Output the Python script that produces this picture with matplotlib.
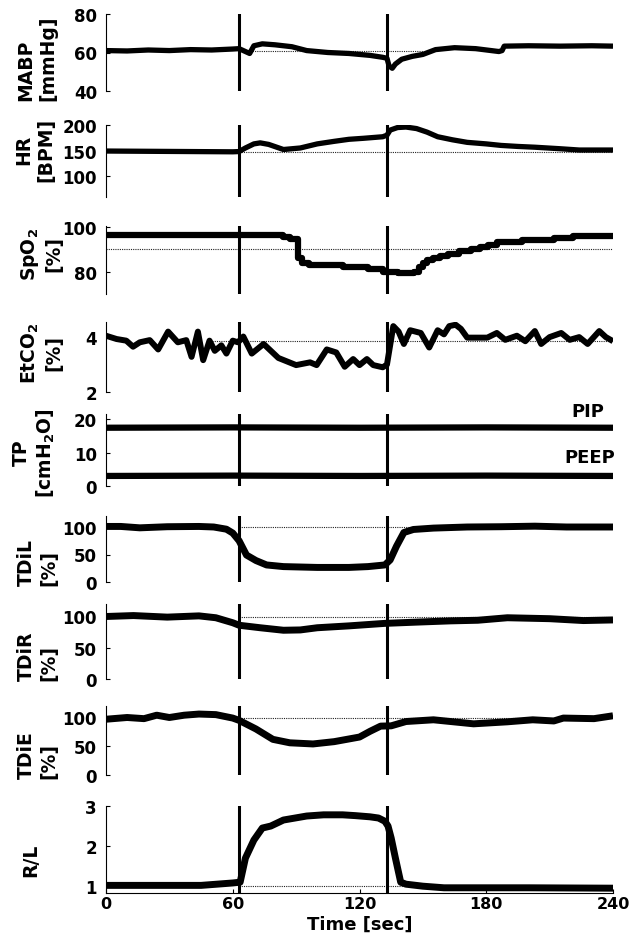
import matplotlib
matplotlib.use("Agg")
import matplotlib.pyplot as plt

plt.rcParams['font.family'] = ['DejaVu Sans']
plt.rcParams['font.weight'] = 'bold'
plt.rcParams['mathtext.default'] = 'regular'

# ---------------- data ----------------
event_times = [63, 133]

mabp_t = [0, 10, 20, 30, 40, 50, 60, 63, 66, 68, 70, 74, 80, 88, 95, 105, 115, 125, 131, 133,
          134, 135.5, 137, 140, 145, 150, 156, 165, 175, 186, 187.5, 188.5, 200, 215, 230, 240]
mabp_v = [61, 60.8, 61.3, 61.0, 61.5, 61.3, 61.8, 62, 60.5, 59.5, 63.5, 64.5, 64, 63, 61, 60, 59.5,
          58.5, 57.5, 57, 53, 51.8, 54, 56.5, 58, 59, 61.5, 62.5, 62, 60.5, 61, 63.3, 63.5, 63.3, 63.5, 63.3]

hr_t = [0, 20, 40, 60, 63, 66, 70, 73, 77, 84, 92, 100, 108, 115, 122, 131, 133, 134.5, 138, 142,
        147, 152, 157, 164, 171, 180, 187, 195, 203, 215, 224, 240]
hr_v = [149, 148.5, 148, 147.5, 148, 155, 163, 165, 162, 152, 155, 163, 168, 172, 174, 177, 180,
        190, 195, 196, 193, 186, 177, 171, 166, 163, 160, 158, 156.5, 153.5, 151, 151]

spo2_t = [0, 84, 87, 91, 93, 96, 112, 124, 131, 138, 146, 148, 150, 152, 155, 158, 162, 167, 173,
          177, 181, 185, 197, 212, 221, 240]
spo2_v = [96.5, 95.5, 94.5, 86, 84, 83, 82, 81, 80, 79.3, 80, 82, 84, 85, 86, 87, 88, 89, 90,
          91, 92, 93, 94, 95, 95.8, 95.8]

etco2_t = [0, 5, 9.6, 12.8, 16, 20.7, 24.7, 29.4, 34, 38, 40.5, 43.5, 46, 49, 51.5, 54.6, 57, 60,
           62.5, 65, 69, 74.6, 81.6, 90, 96.6, 99.7, 104.5, 109, 113, 117, 120, 123.5, 126.5, 131,
           133, 136, 138.5, 141, 144, 149, 153, 157, 160, 162.5, 165.5, 168, 171, 180.5, 185, 189,
           194.5, 198.5, 203, 206, 210, 215.5, 219.5, 224, 228, 233.5, 236.6, 240]
etco2_v = [4.05, 3.93, 3.87, 3.65, 3.81, 3.89, 3.55, 4.2, 3.81, 3.89, 3.28, 4.2, 3.16, 3.87, 3.5,
           3.7, 3.4, 3.87, 3.81, 4.02, 3.4, 3.75, 3.24, 2.98, 3.08, 2.98, 3.55, 3.44, 2.92, 3.2, 2.98,
           3.2, 2.98, 2.9, 3.0, 4.4, 4.2, 3.75, 4.25, 4.15, 3.62, 4.25, 4.1, 4.4, 4.45, 4.3, 3.98,
           3.98, 4.15, 3.9, 4.05, 3.85, 4.22, 3.75, 4.0, 4.15, 3.9, 4.0, 3.75, 4.22, 4.0, 3.85]

tp_t = [0, 60, 120, 180, 240]
pip_v = [17.4, 17.5, 17.4, 17.5, 17.4]
peep_v = [3.0, 3.1, 3.0, 3.1, 3.0]

tdil_t = [0, 7, 16, 29, 44, 51, 57, 60, 63, 66.5, 71, 76, 84, 100, 115, 124, 132, 134.5, 137.5,
          141, 145.5, 155, 171, 187, 203, 218, 240]
tdil_v = [101, 101, 98.5, 100.5, 101, 100, 96, 89, 75, 49, 39, 31, 28, 26.5, 26.5, 28, 31, 40, 65,
          90, 95.5, 98, 100, 100.5, 101.5, 100, 100]

tdir_t = [0, 13, 29, 44, 52, 60, 63, 73, 84, 92, 100, 115, 132, 147, 163, 176, 190, 210, 226, 240]
tdir_v = [100, 101.5, 99, 101, 98, 90, 86, 82, 78, 78.5, 82, 85, 89, 91, 93, 94, 98, 96.5, 93.5, 94.5]

tdie_t = [0, 10, 18, 24, 30, 37, 44, 52, 60, 63, 71, 79, 87, 98, 108, 120, 125, 130, 135, 142,
          155, 174, 190, 202, 212, 216.5, 231, 240]
tdie_v = [97, 100, 98, 104, 100, 104, 106, 105, 99, 95, 80, 62, 56, 54, 58, 66, 76, 85, 85.5, 93,
          96, 89, 92.5, 96, 94, 99, 98, 103]

rl_t = [0, 45, 60, 63.5, 66, 70, 74, 78, 84, 95, 103, 112, 118, 125, 129, 132, 133.5, 135, 137,
        139.5, 142, 150, 160, 200, 240]
rl_v = [1.02, 1.02, 1.08, 1.1, 1.7, 2.15, 2.45, 2.5, 2.65, 2.75, 2.78, 2.78, 2.76, 2.73, 2.7, 2.62,
        2.5, 2.2, 1.7, 1.1, 1.05, 1.0, 0.96, 0.96, 0.95]

x_ticks = [0, 60, 120, 180, 240]

# ---------------- layout ----------------
W, H = 630, 937
fig = plt.figure(figsize=(W / 100, H / 100), dpi=100)

ax_left, ax_right = 106, 613
tops = [15, 126, 227, 323, 415, 517, 605, 707, 807]
bots = [92, 198, 295, 393, 487, 583, 680, 776, 894]

panels = [
    dict(t=mabp_t, v=mabp_v, ylim=(40, 80), ticks=[40, 60, 80], lw=3.8, ref=(60.7, 63, 150),
         label="MABP\n[mmHg]", lx=57, ly=58, ma='left'),
    dict(t=hr_t, v=hr_v, ylim=(59, 200), ticks=[100, 150, 200], lw=3.8, ref=(148, 63, 240),
         label="HR\n[BPM]", lx=55, ly=150, ma='center'),
    dict(t=spo2_t, v=spo2_v, ylim=(70, 100.3), ticks=[80, 100], lw=4.5, ref=(90, 0, 240),
         label="SpO$_2$\n[%]", lx=63, ly=254, ma='center', steps=True),
    dict(t=etco2_t, v=etco2_v, ylim=(2, 4.55), ticks=[2, 4], lw=4.3, ref=(3.87, 50, 240),
         label="EtCO$_2$\n[%]", lx=63, ly=353, ma='center'),
    dict(t=None, v=None, ylim=(0, 21.5), ticks=[0, 10, 20], lw=4.5, ref=None,
         label="TP\n[cmH$_2$O]", lx=57, ly=453, ma='center'),
    dict(t=tdil_t, v=tdil_v, ylim=(0, 120), ticks=[0, 50, 100], lw=5.0, ref=(100, 63, 240),
         label="TDiL\n[%]", lx=58, ly=563, ma='left'),
    dict(t=tdir_t, v=tdir_v, ylim=(0, 120), ticks=[0, 50, 100], lw=5.0, ref=(100, 63, 240),
         label="TDiR\n[%]", lx=58, ly=656, ma='left'),
    dict(t=tdie_t, v=tdie_v, ylim=(0, 120), ticks=[0, 50, 100], lw=5.0, ref=(100, 63, 240),
         label="TDiE\n[%]", lx=58, ly=755, ma='left'),
    dict(t=rl_t, v=rl_v, ylim=(0.83, 3), ticks=[1, 2, 3], lw=5.0, ref=(1.0, 63, 240),
         label="R/L", lx=40, ly=860, ma='center'),
]

for i, p in enumerate(panels):
    l = ax_left / W
    b = 1 - bots[i] / H
    w = (ax_right - ax_left) / W
    h = (bots[i] - tops[i]) / H
    ax = fig.add_axes([l, b, w, h])
    ax.set_xlim(0, 240)
    ax.set_ylim(*p['ylim'])
    ax.set_yticks(p['ticks'])
    for s in ['top', 'right']:
        ax.spines[s].set_visible(False)
    ax.spines['left'].set_linewidth(0.8)
    if i < len(panels) - 1:
        ax.spines['bottom'].set_visible(False)
        ax.set_xticks([])
    else:
        ax.spines['bottom'].set_linewidth(0.8)
        ax.set_xticks(x_ticks)
        ax.set_xticklabels([str(x) for x in x_ticks])
    ax.tick_params(axis='both', direction='in', length=3, width=0.8, labelsize=12, pad=6.5)
    ax.tick_params(axis='x', pad=2, labelsize=11.5)
    for lab in ax.get_yticklabels() + ax.get_xticklabels():
        lab.set_fontweight('bold')

    if p['ref'] is not None:
        rv, r0, r1 = p['ref']
        ax.plot([r0, r1], [rv, rv], color='#222222', lw=0.8, ls=(0, (1, 1)), zorder=1)

    if p['t'] is not None:
        if p.get('steps'):
            ax.plot(p['t'], p['v'], color='black', lw=p['lw'], drawstyle='steps-post',
                    solid_joinstyle='round', zorder=2)
        else:
            ax.plot(p['t'], p['v'], color='black', lw=p['lw'], solid_joinstyle='round',
                    solid_capstyle='butt', zorder=2)
    else:
        ax.plot(tp_t, pip_v, color='black', lw=p['lw'], zorder=2)
        ax.plot(tp_t, peep_v, color='black', lw=p['lw'], zorder=2)
        ax.text(236, 22.5, "PIP", ha='right', va='center', fontsize=13, fontweight='bold',
                clip_on=False)
        ax.text(241, 8.7, "PEEP", ha='right', va='center', fontsize=13, fontweight='bold',
                clip_on=False)

    for et in event_times:
        ax.axvline(et, color='black', lw=2.2, zorder=3)

    fig.text(p['lx'] / W, 1 - p['ly'] / H, p['label'], rotation=90, ha='right', va='center',
             multialignment=p['ma'], fontsize=13.5, fontweight='bold')

fig.text(((ax_left + ax_right) / 2) / W, 1 - 925 / H, "Time [sec]", ha='center', va='center',
         fontsize=13, fontweight='bold')

fig.savefig("out.png", dpi=100)
